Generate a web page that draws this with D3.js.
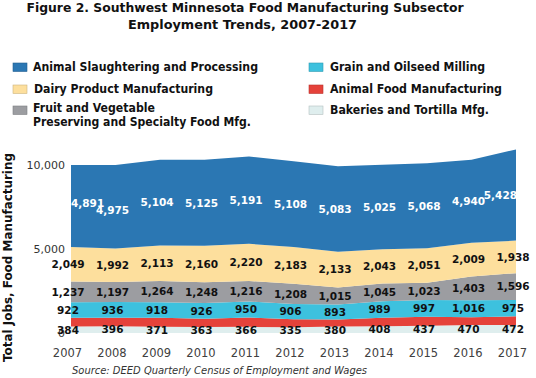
<!DOCTYPE html>
<html><head><meta charset="utf-8">
<script src="https://cdn.jsdelivr.net/npm/d3@7/dist/d3.min.js"></script>
<style>body{margin:0;background:#fff}svg{display:block}</style>
</head><body>
<svg id="c" width="536" height="378"></svg>
<script>
// ---- data ----
const years = [2007, 2008, 2009, 2010, 2011, 2012, 2013, 2014, 2015, 2016, 2017];
const bakeries        = [384, 396, 371, 363, 366, 335, 380, 408, 437, 470, 472];
const animalFood      = [520, 510, 540, 490, 560, 480, 420, 500, 530, 470, 520]; // unlabeled, estimated
const grain           = [922, 936, 918, 926, 950, 906, 893, 989, 997, 1016, 975];
const fruitVeg        = [1237, 1197, 1264, 1248, 1216, 1208, 1015, 1045, 1023, 1403, 1596];
const dairy           = [2049, 1992, 2113, 2160, 2220, 2183, 2133, 2043, 2051, 2009, 1938];
const animalSlaughter = [4891, 4975, 5104, 5125, 5191, 5108, 5083, 5025, 5068, 4940, 5428];
const seriesKeys  = ["bakeries", "animalFood", "grain", "fruitVeg", "dairy", "animalSlaughter"];
const seriesNames = ["Bakeries and Tortilla Mfg.", "Animal Food Manufacturing", "Grain and Oilseed Milling",
  "Fruit and Vegetable|Preserving and Specialty Food Mfg.", "Dairy Product Manufacturing", "Animal Slaughtering and Processing"];
const seriesColors = ["#dfeeee", "#e5423a", "#3dc1de", "#9c9da1", "#fddf9d", "#2b77b3"];
const labeled = [true, false, true, true, true, true];
const yTicks = [0, 5000, 10000];

const table = years.map((y, i) => ({year: y, bakeries: bakeries[i], animalFood: animalFood[i], grain: grain[i],
  fruitVeg: fruitVeg[i], dairy: dairy[i], animalSlaughter: animalSlaughter[i]}));

const svg = d3.select("#c");
const FONT = "'DejaVu Sans', Verdana, sans-serif";

const x = d3.scalePoint().domain(years).range([71, 516]);
const y = d3.scaleLinear().domain([0, 10000]).range([333, 165]);

const stack = d3.stack().keys(seriesKeys);
const layers = stack(table);

const area = d3.area().x(d => x(d.data.year)).y0(d => y(d[0])).y1(d => y(d[1]));

svg.append("g").selectAll("path").data(layers).join("path")
  .attr("d", area).attr("fill", (d, i) => seriesColors[i]);

// y axis
const yAxis = svg.append("g").attr("transform", "translate(68,0)")
  .call(d3.axisLeft(y).tickValues(yTicks).tickSize(0).tickPadding(3).tickFormat(d3.format(",")));
yAxis.select(".domain").remove();
yAxis.selectAll("text").attr("font-family", FONT).attr("font-size", 11).attr("fill", "#333");

// value labels
const [xMin, xMax] = x.range();
layers.forEach((layer, li) => {
  if (!labeled[li]) return;
  const white = li === 5;
  const sel = svg.append("g").selectAll("text").data(layer).join("text")
    .attr("x", d => x(d.data.year) - 3)
    .attr("y", d => y((d[0] + d[1]) / 2))
    .attr("dy", "0.36em")
    .attr("text-anchor", "middle")
    .attr("font-family", FONT).attr("font-weight", "bold").attr("font-size", 10.5)
    .attr("fill", white ? "#fff" : "#111")
    .text(d => d3.format(",")(d.data[seriesKeys[li]]));
  if (white) {
    let prevRight = -Infinity, prevNode = null;
    sel.each(function(d) {
      const w = this.getComputedTextLength(), hw = w / 2;
      const cx = Math.max(xMin + hw, Math.min(xMax + 1 - hw, x(d.data.year) - 3));
      const node = d3.select(this).attr("x", cx);
      if (cx - hw < prevRight - 4 && prevNode) {
        node.attr("y", +node.attr("y") + 4);
        prevNode.attr("y", +prevNode.attr("y") - 3);
      }
      prevRight = cx + hw; prevNode = node;
    });
  }
});

// x axis
const xAxis = svg.append("g").attr("transform", "translate(-4,349)")
  .call(d3.axisBottom(x).tickSize(0).tickPadding(0).tickFormat(d3.format("d")));
xAxis.select(".domain").remove();
xAxis.selectAll("text").attr("font-family", FONT).attr("font-size", 11.5).attr("fill", "#404040");

// title
svg.append("text").attr("x", 245).attr("y", 12).attr("text-anchor", "middle")
  .attr("font-family", FONT).attr("font-weight", "bold").attr("font-size", 12.5).attr("fill", "#111")
  .attr("textLength", 437).attr("lengthAdjust", "spacingAndGlyphs")
  .text("Figure 2. Southwest Minnesota Food Manufacturing Subsector");
svg.append("text").attr("x", 242.5).attr("y", 29).attr("text-anchor", "middle")
  .attr("font-family", FONT).attr("font-weight", "bold").attr("font-size", 12.5).attr("fill", "#111")
  .attr("textLength", 229).attr("lengthAdjust", "spacingAndGlyphs")
  .text("Employment Trends, 2007-2017");

// legend
const legendItems = [
  {s: 5, sx: 13, sy: 63, tx: 33, ty: [71], w: [225]},
  {s: 4, sx: 13, sy: 85, tx: 34, ty: [93], w: [179]},
  {s: 3, sx: 13, sy: 106, tx: 33, ty: [112, 126], w: [122, 218]},
  {s: 2, sx: 309, sy: 63, tx: 330, ty: [71], w: [155]},
  {s: 1, sx: 309, sy: 85, tx: 330, ty: [93], w: [172]},
  {s: 0, sx: 309, sy: 106, tx: 330, ty: [114], w: [159]}
];
const lg = svg.append("g");
legendItems.forEach(it => {
  lg.append("rect").attr("x", it.sx).attr("y", it.sy).attr("width", 14).attr("height", 8.5)
    .attr("fill", seriesColors[it.s]).attr("stroke", d3.color(seriesColors[it.s]).darker(0.6)).attr("stroke-width", 0.6);
  seriesNames[it.s].split("|").forEach((line, k) => {
    lg.append("text").attr("x", it.tx).attr("y", it.ty[k])
      .attr("font-family", FONT).attr("font-weight", "bold").attr("font-size", 11.5).attr("fill", "#111")
      .attr("textLength", it.w[k]).attr("lengthAdjust", "spacingAndGlyphs")
      .text(line);
  });
});

// y axis title
svg.append("text").attr("transform", "translate(12,257.5) rotate(-90)").attr("text-anchor", "middle")
  .attr("font-family", FONT).attr("font-weight", "bold").attr("font-size", 12).attr("fill", "#111")
  .attr("textLength", 209).attr("lengthAdjust", "spacingAndGlyphs")
  .text("Total Jobs, Food Manufacturing");

// source
svg.append("text").attr("x", 72).attr("y", 374)
  .attr("font-family", FONT).attr("font-style", "italic").attr("font-size", 10).attr("fill", "#333")
  .attr("textLength", 295).attr("lengthAdjust", "spacingAndGlyphs")
  .text("Source: DEED Quarterly Census of Employment and Wages");
</script>
</body></html>
